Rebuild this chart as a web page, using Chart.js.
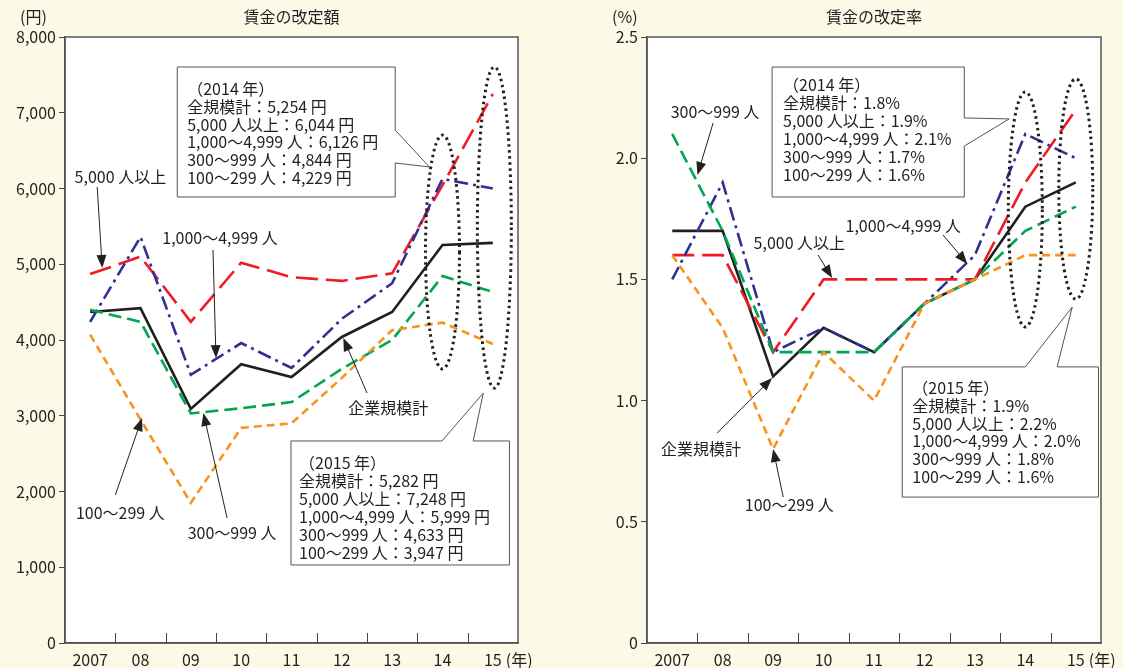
<!DOCTYPE html>
<html lang="ja">
<head>
<meta charset="UTF-8">
<title>賃金の改定額・改定率</title>
<script src="https://cdn.jsdelivr.net/npm/chart.js"></script>
<style>
  body { margin: 0; background: #fdf9e7; }
  .panel { position: absolute; top: 0; }
  #left { left: 0; }
  #right { left: 560px; }
</style>
</head>
<body>
<div class="panel" id="left"><canvas id="chartAmount" width="560" height="668"></canvas></div>
<div class="panel" id="right"><canvas id="chartRate" width="563" height="668"></canvas></div>
<script>
// 年（カテゴリ）
const years = ['2007', '08', '09', '10', '11', '12', '13', '14', '15'];

// 賃金の改定額（円）
const amountAll   = [4370, 4420, 3090, 3680, 3510, 4040, 4370, 5254, 5282];
const amount5000  = [4870, 5100, 4240, 5020, 4830, 4780, 4880, 6044, 7248];
const amount1000  = [4240, 5360, 3540, 3960, 3630, 4280, 4750, 6126, 5999];
const amount300   = [4400, 4240, 3030, 3100, 3180, 3620, 4000, 4844, 4633];
const amount100   = [4070, 2950, 1850, 2840, 2900, 3500, 4130, 4229, 3947];

// 賃金の改定率（%）
const rateAll  = [1.7, 1.7, 1.1, 1.3, 1.2, 1.4, 1.5, 1.8, 1.9];
const rate5000 = [1.6, 1.6, 1.2, 1.5, 1.5, 1.5, 1.5, 1.9, 2.2];
const rate1000 = [1.5, 1.9, 1.2, 1.3, 1.2, 1.4, 1.6, 2.1, 2.0];
const rate300  = [2.1, 1.7, 1.2, 1.2, 1.2, 1.4, 1.5, 1.7, 1.8];
const rate100  = [1.6, 1.3, 0.8, 1.2, 1.0, 1.4, 1.5, 1.6, 1.6];

const amountTicks = [0, 1000, 2000, 3000, 4000, 5000, 6000, 7000, 8000];
const rateTicks = [0, 0.5, 1.0, 1.5, 2.0, 2.5];

const FONT = "'Noto Sans CJK JP', 'Noto Sans', sans-serif";
const INK = '#231f20';
Chart.defaults.font.family = FONT;
Chart.defaults.font.size = 16;
Chart.defaults.color = INK;

const fmtYen = v => v.toLocaleString('en-US');
const fmtPct = v => v.toFixed(1);

function series(all, s5000, s1000, s300, s100) {
  // 先頭ほど上に描かれる
  return [
    { label: '100〜299 人', data: s100, borderColor: '#f7931e', borderDash: [8, 5] },
    { label: '300〜999 人', data: s300, borderColor: '#00a651', borderDash: [13, 6] },
    { label: '1,000〜4,999 人', data: s1000, borderColor: '#2e3192', borderDash: [14, 5, 3, 5] },
    { label: '5,000 人以上', data: s5000, borderColor: '#ed1c24', borderDash: [22, 8] },
    { label: '企業規模計', data: all, borderColor: INK, borderDash: [] }
  ].map(d => Object.assign(d, { borderWidth: 2.6, pointRadius: 0, tension: 0, fill: false }));
}

const amountOrRate = {
  yen: { all: amountAll, s5000: amount5000, s1000: amount1000, s300: amount300, s100: amount100 },
  pct: { all: rateAll, s5000: rate5000, s1000: rate1000, s300: rate300, s100: rate100 }
};

function boxLines(head, i, fmt, unit) {
  const d = amountOrRate[unit];
  const u = unit === 'yen' ? ' 円' : '%';
  return [
    head,
    '全規模計：' + fmt(d.all[i]) + u,
    '5,000 人以上：' + fmt(d.s5000[i]) + u,
    '1,000〜4,999 人：' + fmt(d.s1000[i]) + u,
    '300〜999 人：' + fmt(d.s300[i]) + u,
    '100〜299 人：' + fmt(d.s100[i]) + u
  ];
}

// 注記（x はカテゴリ番号、y は軸の値）
const amountNotes = {
  title: '賃金の改定額', unit: '(円)', unitX: 20,
  ellipses: [{ x: 7, y0: 3617, y1: 6706 }, { x: 8.03, y0: 3366, y1: 7604 }],
  boxes: [
    { x0: 1.73, x1: 6.06, yTop: 7604, yBot: 5888, side: 'right', a: 6772, tip: [6.74, 6284], b: 6337,
      lines: boxLines('（2014 年）', 7, fmtYen, 'yen'), dx: 10, dy: 22, lh: 17.8 },
    { x0: 3.99, x1: 8.33, yTop: 2667, yBot: 1030, side: 'top', a: 6.99, tip: [7.81, 3300], b: 7.61,
      lines: boxLines('（2015 年）', 8, fmtYen, 'yen'), dx: 8, dy: 22, lh: 18 }
  ],
  labels: [
    { text: '5,000 人以上', at: [0.60, 6152], tail: [0.14, 6020], tip: [0.24, 4950] },
    { text: '1,000〜4,999 人', at: [2.58, 5347], tail: [2.44, 5188], tip: [2.50, 3762] },
    { text: '企業規模計', at: [5.92, 3102], tail: [5.50, 3300], tip: [5.03, 4026] },
    { text: '100〜299 人', at: [0.60, 1716], tail: [0.50, 1954], tip: [1.03, 2970] },
    { text: '300〜999 人', at: [2.82, 1452], tail: [2.72, 1650], tip: [2.25, 3036] }
  ]
};

const rateNotes = {
  title: '賃金の改定率', unit: '(%)', unitX: 52,
  ellipses: [{ x: 7, y0: 1.304, y1: 2.273 }, { x: 8, y0: 1.419, y1: 2.327 }],
  boxes: [
    { x0: 1.98, x1: 5.79, yTop: 2.376, yBot: 1.840, side: 'right', a: 2.166, tip: [6.68, 2.162], b: 2.050,
      lines: boxLines('（2014 年）', 7, fmtPct, 'pct'), dx: 11, dy: 18, lh: 18 },
    { x0: 4.56, x1: 8.45, yTop: 1.139, yBot: 0.602, side: 'top', a: 7.0, tip: [7.93, 1.386], b: 7.63,
      lines: boxLines('（2015 年）', 8, fmtPct, 'pct'), dx: 10, dy: 21, lh: 17.8 }
  ],
  labels: [
    { text: '300〜999 人', at: [0.85, 2.19], tail: [0.81, 2.145], tip: [0.50, 1.931] },
    { text: '5,000 人以上', at: [2.52, 1.65], tail: [2.89, 1.601], tip: [3.17, 1.506] },
    { text: '1,000〜4,999 人', at: [4.58, 1.72], tail: [5.37, 1.683], tip: [5.85, 1.564] },
    { text: '企業規模計', at: [0.57, 0.80], tail: [0.89, 0.866], tip: [1.98, 1.093] },
    { text: '100〜299 人', at: [2.32, 0.57], tail: [2.20, 0.602], tip: [2.00, 0.80] }
  ]
};

function drawArrow(ctx, x1, y1, x2, y2) {
  const a = Math.atan2(y2 - y1, x2 - x1);
  const hl = 13, hw = 5;
  const c = Math.cos(a), s = Math.sin(a);
  ctx.beginPath();
  ctx.moveTo(x1, y1);
  ctx.lineTo(x2 - c * hl * 0.8, y2 - s * hl * 0.8);
  ctx.lineWidth = 1;
  ctx.setLineDash([]);
  ctx.strokeStyle = INK;
  ctx.stroke();
  ctx.beginPath();
  ctx.moveTo(x2, y2);
  ctx.lineTo(x2 - c * hl + s * hw, y2 - s * hl - c * hw);
  ctx.lineTo(x2 - c * hl - s * hw, y2 - s * hl + c * hw);
  ctx.closePath();
  ctx.fillStyle = INK;
  ctx.fill();
}

const decor = {
  id: 'decor',
  beforeDraw(chart) {
    // 描画領域は白
    const a = chart.chartArea;
    chart.ctx.save();
    chart.ctx.fillStyle = '#fff';
    chart.ctx.fillRect(a.left, a.top, a.right - a.left, a.bottom - a.top);
    chart.ctx.restore();
  },
  afterDatasetsDraw(chart, args, opts) {
    const n = opts.notes;
    const ctx = chart.ctx;
    const xs = chart.scales.x, ys = chart.scales.y;
    const P = (xi, v) => [xs.getPixelForValue(xi), ys.getPixelForValue(v)];
    const area = chart.chartArea;
    ctx.save();

    // 枠
    ctx.setLineDash([]);
    ctx.strokeStyle = '#555';
    ctx.lineWidth = 1.5;
    ctx.strokeRect(area.left, area.top, area.right - area.left, area.bottom - area.top);

    // x 軸の目盛（内向き、区切り位置）
    ctx.lineWidth = 1;
    ctx.strokeStyle = '#444';
    for (let i = 1; i < years.length; i++) {
      const x = Math.round(xs.getPixelForValue(i - 0.5)) + 0.5;
      ctx.beginPath();
      ctx.moveTo(x, area.bottom);
      ctx.lineTo(x, area.bottom - 10);
      ctx.stroke();
    }

    // 見出し・単位
    ctx.fillStyle = INK;
    ctx.font = '16px ' + FONT;
    ctx.textBaseline = 'middle';
    ctx.textAlign = 'center';
    ctx.fillText(n.title, (area.left + area.right) / 2, 17);
    ctx.textAlign = 'left';
    ctx.fillText(n.unit, n.unitX, 17);
    ctx.fillText('(年)', xs.getPixelForValue(years.length - 1) + 13, 660);

    // 点線の楕円
    ctx.strokeStyle = INK;
    ctx.lineWidth = 3;
    ctx.setLineDash([2.5, 3.5]);
    n.ellipses.forEach(e => {
      const [cx, ya] = P(e.x, e.y1);
      const yb = ys.getPixelForValue(e.y0);
      ctx.beginPath();
      ctx.ellipse(cx, (ya + yb) / 2, 17, (yb - ya) / 2, 0, 0, Math.PI * 2);
      ctx.stroke();
    });

    // 吹き出し
    ctx.setLineDash([]);
    n.boxes.forEach(b => {
      const L = xs.getPixelForValue(b.x0), R = xs.getPixelForValue(b.x1);
      const T = ys.getPixelForValue(b.yTop), B = ys.getPixelForValue(b.yBot);
      const tip = P(b.tip[0], b.tip[1]);
      ctx.beginPath();
      ctx.moveTo(L, T);
      if (b.side === 'top') {
        ctx.lineTo(xs.getPixelForValue(b.a), T);
        ctx.lineTo(tip[0], tip[1]);
        ctx.lineTo(xs.getPixelForValue(b.b), T);
        ctx.lineTo(R, T);
        ctx.lineTo(R, B);
      } else {
        ctx.lineTo(R, T);
        ctx.lineTo(R, ys.getPixelForValue(b.a));
        ctx.lineTo(tip[0], tip[1]);
        ctx.lineTo(R, ys.getPixelForValue(b.b));
        ctx.lineTo(R, B);
      }
      ctx.lineTo(L, B);
      ctx.closePath();
      ctx.fillStyle = '#fff';
      ctx.fill();
      ctx.lineWidth = 1;
      ctx.strokeStyle = '#555';
      ctx.stroke();
      ctx.fillStyle = INK;
      ctx.font = '16px ' + FONT;
      ctx.textAlign = 'left';
      ctx.textBaseline = 'middle';
      b.lines.forEach((t, i) => ctx.fillText(t, L + b.dx, T + b.dy + i * b.lh));
    });

    // 系列ラベルと矢印
    n.labels.forEach(l => {
      const at = P(l.at[0], l.at[1]);
      ctx.fillStyle = INK;
      ctx.font = '16px ' + FONT;
      ctx.textAlign = 'center';
      ctx.textBaseline = 'middle';
      ctx.fillText(l.text, at[0], at[1]);
      const t0 = P(l.tail[0], l.tail[1]), t1 = P(l.tip[0], l.tip[1]);
      drawArrow(ctx, t0[0], t0[1], t1[0], t1[1]);
    });
    ctx.restore();
  }
};

function makeChart(id, datasets, yMax, step, fmt, axisW, padRight, notes) {
  return new Chart(document.getElementById(id), {
    type: 'line',
    data: { labels: years, datasets: datasets },
    plugins: [decor],
    options: {
      responsive: false,
      animation: false,
      layout: { padding: { top: 37, right: padRight, bottom: 0, left: 0 } },
      plugins: {
        legend: { display: false },
        tooltip: { enabled: false },
        decor: { notes: notes }
      },
      scales: {
        x: {
          type: 'category',
          offset: true,
          grid: { display: false, drawTicks: false },
          border: { display: true, color: '#444', width: 1.5 },
          ticks: { padding: 7, maxRotation: 0, autoSkip: false, font: { size: 16 } },
          afterFit: s => { s.height = 25; }
        },
        y: {
          min: 0,
          max: yMax,
          grid: { display: true, drawOnChartArea: false, drawTicks: true, tickLength: 6, color: '#444' },
          border: { display: true, color: '#444', width: 1.5 },
          ticks: { stepSize: step, padding: 3, font: { size: 16 }, callback: v => v === 0 ? '0' : fmt(v) },
          afterFit: s => { s.width = axisW; }
        }
      }
    }
  });
}

makeChart('chartAmount', series(amountAll, amount5000, amount1000, amount300, amount100),
  amountTicks[amountTicks.length - 1], amountTicks[1], fmtYen, 65, 42, amountNotes);
makeChart('chartRate', series(rateAll, rate5000, rate1000, rate300, rate100),
  rateTicks[rateTicks.length - 1], rateTicks[1], fmtPct, 87, 22, rateNotes);
</script>
</body>
</html>
